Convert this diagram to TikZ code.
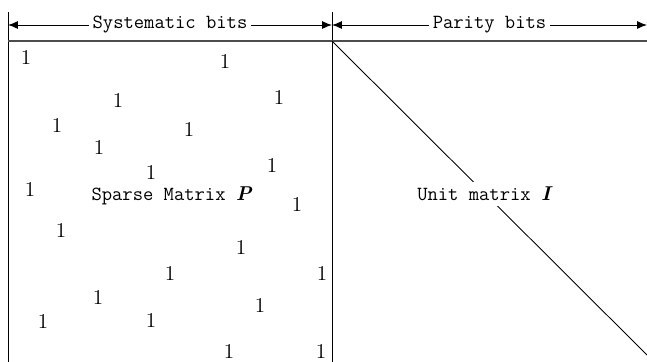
\documentclass[tikz,border=0pt]{standalone}
\usepackage{tikz}
\usetikzlibrary{positioning,arrows.meta}

\begin{document}
\begin{tikzpicture}[x=0.02cm, y=-0.02cm, line width=0.5pt,
  one/.style={font=\fontsize{12}{12}\selectfont, inner sep=0pt},
  lbl/.style={fill=white, inner sep=2pt, font=\fontsize{11.4}{13}\selectfont\ttfamily},
  arr/.style={{Latex[length=0.2cm,width=0.16cm]}-{Latex[length=0.2cm,width=0.16cm]}},
]
\useasboundingbox (0,0) rectangle (647,362);
% frame of the matrix
\coordinate (tl) at (8,12);   \coordinate (bl) at (8,362);
\coordinate (tm) at (332,12); \coordinate (bm) at (332,362);
\coordinate (hl) at (8,41);   \coordinate (hr) at (647,41);
\coordinate (corner) at (332,41); \coordinate (diagend) at (647,355);
\coordinate (al) at (8,25); \coordinate (am) at (332,25); \coordinate (ar) at (647,25);
\draw (tl) -- (bl);
\draw (tm) -- (bm);
\draw[black!70, line width=0.7pt] (hl) -- (hr);
\draw[arr] (al) -- node[lbl]{Systematic bits} (am);
\draw[arr] (am) -- node[lbl]{Parity bits} (ar);
% sparse part
\foreach \px/\py [count=\i] in {26/57, 225/61, 118/100, 279/97, 57/125, 189/129,
    99/147, 151/172, 272/165, 30/189, 297/204, 61/230, 241/247, 170/273,
    322/273, 98/297, 260/305, 43/321, 151/320, 229/351, 321/351}
  \node[one] (one\i) at (\px,\py) {1};
\node[lbl, fill=none] (sparse) at (172,196) {Sparse Matrix \textbf{\textit{\rmfamily P}}};
% identity part
\draw (corner) -- (diagend);
\node[lbl, inner sep=3pt] (unit) at (485,194) {Unit matrix \textbf{\textit{\rmfamily I}}};
\end{tikzpicture}
\end{document}
